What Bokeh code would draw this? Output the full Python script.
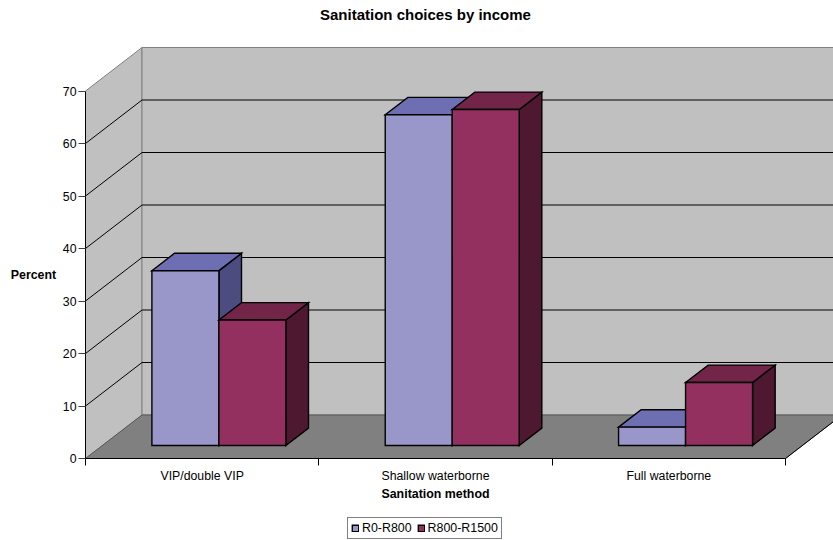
from bokeh.embed import file_html
from bokeh.resources import INLINE
from bokeh.plotting import figure
from bokeh.models import (FixedTicker, Label, Legend, LegendItem, Range1d)

# Chart values
chart_title = "Sanitation choices by income"
categories = ["VIP/double VIP", "Shallow waterborne", "Full waterborne"]
series_names = ["R0-R800", "R800-R1500"]
r0_r800 = [33.3, 63.0, 3.5]
r800_r1500 = [23.9, 64.0, 12.0]
percent_ticks = [0, 10, 20, 30, 40, 50, 60, 70]

# Oblique projection, in data units (one category wide, one percent tall)
PX_X = 233.33
PX_Y = 5.25
DEPTH_X = 56.5 / PX_X
DEPTH_Y = 43.5 / PX_Y
BAR_W = 67 / PX_X
GAP = 50 / PX_X
BAR_DEPTH = 0.40
BAR_START_X = 16.4 / PX_X
BAR_START_Y = 13 / PX_Y
Y_MAX = 70

# The plot area fills the page; the axes cross at the origin inside it
p = figure(width=833, height=540, output_backend="svg", toolbar_location=None,
           x_range=Range1d(-85 / PX_X, (833 - 85) / PX_X),
           y_range=Range1d(-(540 - 458) / PX_Y, 458 / PX_Y),
           x_axis_type="linear", y_axis_type="linear",
           min_border_left=0, min_border_right=0, min_border_top=0, min_border_bottom=0)
p.grid.visible = False
p.outline_line_color = None
p.background_fill_color = "white"


def poly(xs, ys, fill, line="black", width=1.0):
    return p.patch(xs, ys, fill_color=fill, line_color=line, line_width=width)


# Left wall, back wall and floor
poly([0, DEPTH_X, DEPTH_X, 0], [0, DEPTH_Y, Y_MAX + DEPTH_Y, Y_MAX], "#c0c0c0", "#808080")
poly([DEPTH_X, 3 + DEPTH_X, 3 + DEPTH_X, DEPTH_X],
     [DEPTH_Y, DEPTH_Y, Y_MAX + DEPTH_Y, Y_MAX + DEPTH_Y], "#c0c0c0", "#808080")
poly([0, 3, 3 + DEPTH_X, DEPTH_X], [0, 0, DEPTH_Y, DEPTH_Y], "#808080", "#595959")
p.line([3, 3 + DEPTH_X], [0, DEPTH_Y], line_color="black", line_width=1)

# Gridlines run along the left wall and across the back wall
for v in percent_ticks[1:-1]:
    p.line([0, DEPTH_X, 3 + DEPTH_X], [v, v + DEPTH_Y, v + DEPTH_Y], line_color="black", line_width=1)

# Three visible faces per bar, series by series so the later one sits in front
palettes = [("#9996c9", "#6e6eb3", "#4c4c80"), ("#933060", "#722549", "#4d1830")]
fronts = []
for s, values in enumerate([r0_r800, r800_r1500]):
    front_c, top_c, side_c = palettes[s]
    fx, fy, tx, ty, sx, sy = [], [], [], [], [], []
    for c, v in enumerate(values):
        x0 = c + BAR_START_X + GAP + s * BAR_W
        x1 = x0 + BAR_W
        y0 = BAR_START_Y
        y1 = BAR_START_Y + v
        dx = BAR_DEPTH * DEPTH_X
        dy = BAR_DEPTH * DEPTH_Y
        fx.append([x0, x1, x1, x0])
        fy.append([y0, y0, y1, y1])
        tx.append([x0, x1, x1 + dx, x0 + dx])
        ty.append([y1, y1, y1 + dy, y1 + dy])
        sx.append([x1, x1 + dx, x1 + dx, x1])
        sy.append([y0, y0 + dy, y1 + dy, y1])
    style = dict(line_color="black", line_width=1.4, line_join="miter")
    p.patches(sx, sy, fill_color=side_c, **style)
    p.patches(tx, ty, fill_color=top_c, **style)
    fronts.append(p.patches(fx, fy, fill_color=front_c, **style))

# Axes
xa = p.xaxis[0]
xa.fixed_location = 0
xa.bounds = (0, 3)
xa.ticker = FixedTicker(ticks=[0.5, 1.5, 2.5], minor_ticks=[0, 1, 2, 3])
xa.major_label_overrides = {0.5: categories[0], 1.5: categories[1], 2.5: categories[2]}
xa.major_tick_out = 0
xa.major_tick_in = 0
xa.minor_tick_out = 7
xa.minor_tick_in = 0
xa.minor_tick_line_color = "black"
xa.axis_line_color = "black"
xa.major_label_standoff = 3
xa.major_label_text_font = "Liberation Sans"
xa.major_label_text_font_size = "12.3px"
xa.major_label_text_color = "black"

ya = p.yaxis[0]
ya.fixed_location = 0
ya.bounds = (0, Y_MAX)
ya.ticker = FixedTicker(ticks=percent_ticks)
ya.major_tick_out = 7
ya.major_tick_in = 0
ya.minor_tick_out = 0
ya.minor_tick_in = 0
ya.major_tick_line_color = "#404040"
ya.axis_line_color = "black"
ya.major_label_standoff = 2
ya.major_label_text_font = "Liberation Sans"
ya.major_label_text_font_size = "12.3px"
ya.major_label_text_color = "black"

# Title and axis captions
label_style = dict(text_font="Liberation Sans", text_font_size="12.4px", text_font_style="bold",
                   text_color="black", text_align="center", text_baseline="middle",
                   x_units="data", y_units="data")
p.add_layout(Label(x=1.5, y=-6.67, text="Sanitation method", **label_style))
p.add_layout(Label(x=-0.223, y=34.9, text="Percent", **label_style))
p.add_layout(Label(x=1.457, y=84.6, text=chart_title,
                   **{**label_style, "text_font_size": "15px"}))

legend = Legend(items=[LegendItem(label=series_names[i], renderers=[fronts[i]]) for i in range(2)],
                orientation="horizontal", location=(347, 1),
                glyph_width=8, glyph_height=8, spacing=5, margin=0, padding=3,
                label_standoff=3, label_text_font="Liberation Sans", label_text_font_size="12.4px",
                label_text_color="black", label_height=13,
                border_line_color="black", border_line_width=1, background_fill_alpha=1)
p.add_layout(legend)

open("out.html", "w").write(file_html(p, INLINE))
